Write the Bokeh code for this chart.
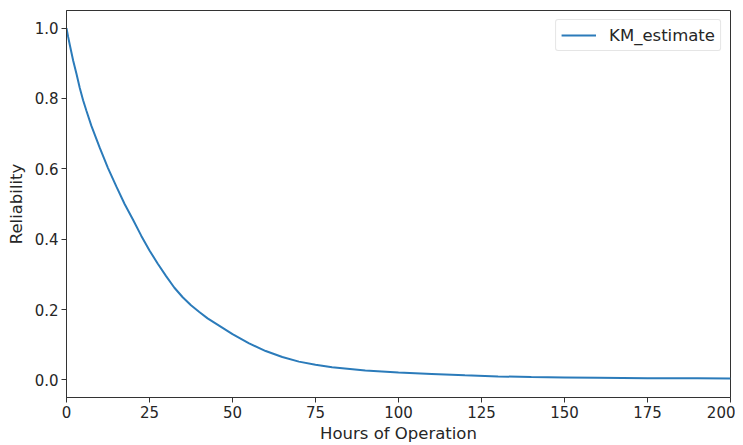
from bokeh.plotting import figure
from bokeh.models import Range1d, FixedTicker, Legend, LegendItem, ColumnDataSource, NumeralTickFormatter
from bokeh.embed import file_html
from bokeh.resources import INLINE

hours = [0, 0.5, 1, 1.5, 2, 3, 4, 5, 6, 7.5, 10, 12.5, 15, 17.5, 20, 22.5, 25, 27.5,
         30, 32.5, 35, 37.5, 40, 42.5, 45, 50, 55, 60, 65, 70, 75, 80, 90, 100, 110,
         120, 130, 140, 150, 160, 175, 190, 200]
km_estimate = [1.0, 0.975, 0.952, 0.93, 0.908, 0.87, 0.83, 0.795, 0.765, 0.722, 0.66,
               0.602, 0.55, 0.50, 0.456, 0.41, 0.368, 0.33, 0.295, 0.262, 0.235,
               0.212, 0.193, 0.175, 0.16, 0.13, 0.104, 0.082, 0.065, 0.052, 0.043,
               0.036, 0.027, 0.021, 0.017, 0.013, 0.010, 0.008, 0.007, 0.006, 0.005,
               0.0045, 0.004]
x_ticks = [0, 25, 50, 75, 100, 125, 150, 175, 200]
y_ticks = [0.0, 0.2, 0.4, 0.6, 0.8, 1.0]

FONT = "DejaVu Sans"
TXT = "#262626"

p = figure(width=735, height=445, output_backend="svg", toolbar_location=None,
           x_range=Range1d(0, 200), y_range=Range1d(-0.05, 1.05),
           min_border_left=66, min_border_right=5, min_border_top=10, min_border_bottom=48)
p.background_fill_color = "white"
p.border_fill_color = "white"
p.outline_line_color = "#333333"
p.outline_line_width = 1
p.grid.visible = False

src = ColumnDataSource(dict(x=hours, y=km_estimate))
r = p.line("x", "y", source=src, line_color="#2b7bba", line_width=2)

for ax in (p.xaxis[0], p.yaxis[0]):
    ax.major_label_text_font = FONT
    ax.major_label_text_font_size = "15px"
    ax.major_label_text_color = TXT
    ax.axis_label_text_font = FONT
    ax.axis_label_text_font_size = "16.5px"
    ax.axis_label_text_font_style = "normal"
    ax.axis_label_text_color = TXT
    ax.minor_tick_line_color = None
    ax.major_tick_out = 5
    ax.major_tick_in = 0
    ax.major_tick_line_color = "#333333"
    ax.axis_line_color = "#333333"

p.xaxis[0].ticker = FixedTicker(ticks=x_ticks)
p.yaxis[0].ticker = FixedTicker(ticks=y_ticks)
p.yaxis[0].formatter = NumeralTickFormatter(format="0.0")
p.xaxis[0].axis_label = "Hours of Operation"
p.yaxis[0].axis_label = "Reliability"
p.xaxis[0].axis_label_standoff = 3
p.yaxis[0].axis_label_standoff = 6
p.xaxis[0].major_label_standoff = 3
p.yaxis[0].major_label_standoff = 3

legend = Legend(items=[LegendItem(label="KM_estimate", renderers=[r])],
                location="top_right")
legend.label_text_font = FONT
legend.label_text_font_size = "16.5px"
legend.label_text_color = TXT
legend.border_line_color = "#cccccc"
legend.border_line_width = 1
legend.border_radius = 3
legend.glyph_width = 35
legend.padding = 5
legend.margin = 9
legend.label_standoff = 13
legend.spacing = 0
p.add_layout(legend)

open("out.html", "w").write(file_html(p, INLINE))
